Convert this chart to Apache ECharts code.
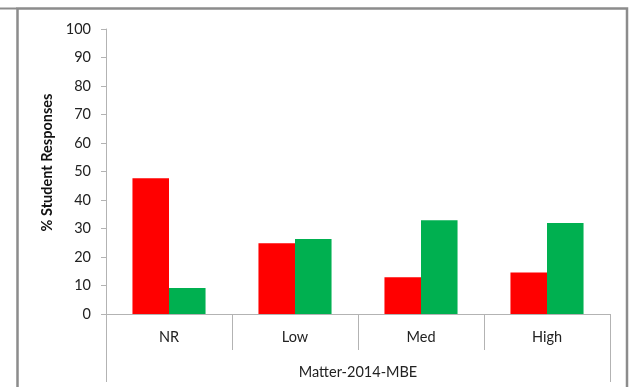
<!DOCTYPE html>
<html>
<head>
<meta charset="utf-8">
<script src="https://cdn.jsdelivr.net/npm/echarts@6/dist/echarts.min.js"></script>
<style>
  html, body { margin: 0; padding: 0; background: #ffffff; }
  #chart { width: 633px; height: 387px; }
</style>
</head>
<body>
<div id="chart"></div>
<script>
// Response levels and the group they belong to
const categories = ['NR', 'Low', 'Med', 'High'];
const groupLabel = ['Matter-2014-MBE'];

// Percent of student responses per level, two series
const redValues = [47.6, 24.8, 12.9, 14.6];
const greenValues = [9.1, 26.3, 32.9, 31.9];

// Y axis range
const yMin = 0;
const yMax = 100;
const yStep = 10;

const FONT = 'Lato, "Open Sans", sans-serif';
const FONT_SIZE = 14.5;
const AXIS_GRAY = '#b3b3b3';

const chart = echarts.init(document.getElementById('chart'), null, { renderer: 'canvas' });

chart.setOption({
  animation: false,
  backgroundColor: '#ffffff',
  grid: { left: 106, right: 23, top: 29, bottom: 73, containLabel: false },
  graphic: [
    // outer frame around the chart area
    {
      type: 'polyline',
      z: 100,
      shape: { points: [[17.5, 400], [17.5, 8.5], [627, 8.5], [627, 400]] },
      style: { stroke: '#8c8c8c', lineWidth: 2.5, fill: null }
    },
    {
      type: 'line',
      z: 100,
      shape: { x1: 0, y1: 8.5, x2: 17, y2: 8.5 },
      style: { stroke: '#8c8c8c', lineWidth: 2 }
    }
  ],
  xAxis: [
    {
      type: 'category',
      data: categories,
      position: 'bottom',
      boundaryGap: true,
      axisLine: { show: true, lineStyle: { color: AXIS_GRAY, width: 1 } },
      axisTick: { show: true, interval: 0, length: 36, lineStyle: { color: AXIS_GRAY } },
      axisLabel: { margin: 16, color: '#222', fontSize: FONT_SIZE, fontFamily: FONT }
    },
    {
      type: 'category',
      data: groupLabel,
      position: 'bottom',
      boundaryGap: true,
      axisLine: { show: false },
      axisTick: { show: true, interval: 0, length: 68, lineStyle: { color: AXIS_GRAY } },
      axisLabel: { margin: 51, color: '#222', fontSize: FONT_SIZE, fontFamily: FONT },
      splitLine: { show: false }
    }
  ],
  yAxis: {
    type: 'value',
    min: yMin,
    max: yMax,
    interval: yStep,
    name: '% Student Responses',
    nameLocation: 'middle',
    nameGap: 45,
    nameRotate: 90,
    nameTextStyle: {
      fontFamily: FONT, fontSize: FONT_SIZE, fontWeight: 'bold', color: '#111',
      padding: [0, 0, 0, 18]
    },
    axisLine: { show: true, lineStyle: { color: AXIS_GRAY, width: 1 } },
    axisTick: { show: true, inside: false, length: 5, lineStyle: { color: AXIS_GRAY } },
    axisLabel: { margin: 15, color: '#222', fontSize: FONT_SIZE, fontFamily: FONT },
    splitLine: { show: false }
  },
  series: [
    {
      type: 'bar',
      name: 'Red',
      data: redValues,
      barGap: '0%',
      barCategoryGap: '42%',
      itemStyle: { color: '#ff0000' }
    },
    {
      type: 'bar',
      name: 'Green',
      data: greenValues,
      barGap: '0%',
      barCategoryGap: '42%',
      itemStyle: { color: '#00b050' }
    }
  ]
});
</script>
</body>
</html>
